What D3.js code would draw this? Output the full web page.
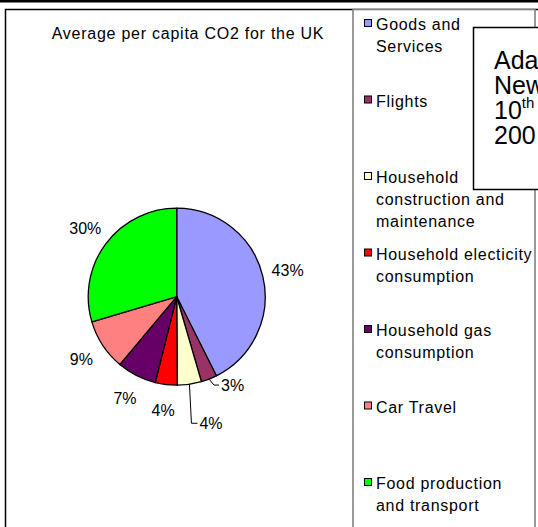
<!DOCTYPE html>
<html>
<head>
<meta charset="utf-8">
<script src="https://cdn.jsdelivr.net/npm/d3@7"></script>
<style>
  html, body { margin: 0; padding: 0; background: #fff; }
  svg { display: block; font-family: "Liberation Sans", Arial, sans-serif; }
</style>
</head>
<body>
<svg id="chart" width="538" height="527"></svg>
<script>
// ---- data ----
const categories = [
  "Goods and Services",
  "Flights",
  "Household construction and maintenance",
  "Household electicity consumption",
  "Household gas consumption",
  "Car Travel",
  "Food production and transport"
];
const legendLines = [
  ["Goods and", "Services"],
  ["Flights"],
  ["Household", "construction and", "maintenance"],
  ["Household electicity", "consumption"],
  ["Household gas", "consumption"],
  ["Car Travel"],
  ["Food production", "and transport"]
];
const values = [42.6, 2.9, 4.4, 4.0, 7.2, 9.3, 29.6];
const colors = ["#9999FF", "#993366", "#FFFFCC", "#FF0000", "#660066", "#FF8080", "#00FF00"];
const title = "Average per capita CO2 for the UK";
const noteLines = ["Ada", "New", "10", "200"];

// ---- drawing ----
const svg = d3.select("#chart");
const W = 538, H = 527;

// top black bar
svg.append("rect").attr("x", 0).attr("y", 0).attr("width", W).attr("height", 2.5).attr("fill", "#000");

// outer chart border
svg.append("rect").attr("x", 5.5).attr("y", 9.5).attr("width", W + 10).attr("height", H + 10)
  .attr("fill", "#fff").attr("stroke", "#000").attr("stroke-width", 1.5);

// title
svg.append("text").attr("x", 188).attr("y", 39).attr("text-anchor", "middle")
  .attr("font-size", 16).attr("letter-spacing", 0.75).attr("fill", "#000").text(title);

// pie
const cx = 176.7, cy = 296.7, R = 88.5;
const g = svg.append("g").attr("transform", `translate(${cx},${cy})`);
const pie = d3.pie().sort(null).value(d => d)(values);
const arc = d3.arc().innerRadius(0).outerRadius(R);
g.selectAll("path.slice").data(pie).join("path")
  .attr("class", "slice")
  .attr("d", arc)
  .attr("fill", (d, i) => colors[i])
  .attr("stroke", "#000").attr("stroke-width", 1.3).attr("stroke-linejoin", "round");

const total = d3.sum(values);
const fmt = v => Math.round(v / total * 100) + "%";
const mid = d => (d.startAngle + d.endAngle) / 2;
const edge = (a, r) => [Math.sin(a) * r, -Math.cos(a) * r];

// labels
const labelR = 114;
pie.forEach((d, i) => {
  const a = mid(d);
  let lx, ly, anchor = "middle";
  if (i === 1) {
    const p0 = edge(a, R);
    const p1 = [p0[0] + 5, p0[1] + 6];
    const p2 = [p1[0] + 5, p1[1]];
    g.append("path").attr("d", d3.line()([p0, p1, p2])).attr("fill", "none").attr("stroke", "#000").attr("stroke-width", 1);
    lx = p2[0] + 2; ly = p2[1]; anchor = "start";
  } else if (i === 2) {
    const p0 = edge(a, R);
    const p1 = [p0[0] + 2, p0[1] + 39];
    const p2 = [p1[0] + 6, p1[1]];
    g.append("path").attr("d", d3.line()([p0, p1, p2])).attr("fill", "none").attr("stroke", "#000").attr("stroke-width", 1);
    lx = p2[0] + 2; ly = p2[1]; anchor = "start";
  } else {
    [lx, ly] = edge(a, labelR);
  }
  g.append("text").attr("x", lx).attr("y", ly).attr("dy", "0.36em")
    .attr("text-anchor", anchor).attr("font-size", 16).attr("fill", "#000").text(fmt(values[i]));
});

// legend box
svg.append("rect").attr("x", 353).attr("y", 9.5).attr("width", 182).attr("height", H)
  .attr("fill", "#fff").attr("stroke", "#808080").attr("stroke-width", 1.6);

const ly = d3.scaleLinear().domain([0, categories.length - 1]).range([30, 489]);
const lg = svg.append("g");
legendLines.forEach((lines, i) => {
  const y0 = ly(i);
  lg.append("rect").attr("x", 364.5).attr("y", y0 - 10.5).attr("width", 7).attr("height", 7)
    .attr("fill", colors[i]).attr("stroke", "#000").attr("stroke-width", 1);
  const t = lg.append("text").attr("font-size", 16).attr("letter-spacing", 0.7).attr("fill", "#000");
  lines.forEach((ln, j) => {
    t.append("tspan").attr("x", 376).attr("y", y0 + j * 22).text(ln);
  });
});

// note text box
svg.append("rect").attr("x", 473.5).attr("y", 27.5).attr("width", 100).attr("height", 162)
  .attr("fill", "#fff").attr("stroke", "#000").attr("stroke-width", 1.5);
const nt = svg.append("g").attr("font-size", 25).attr("fill", "#000");
noteLines.forEach((ln, i) => {
  const t = nt.append("text").attr("x", 494).attr("y", 68.5 + i * 25.3).text(ln);
  if (ln === "10") t.append("tspan").attr("font-size", 15).attr("dy", -11).text("th");
});
</script>
</body>
</html>
